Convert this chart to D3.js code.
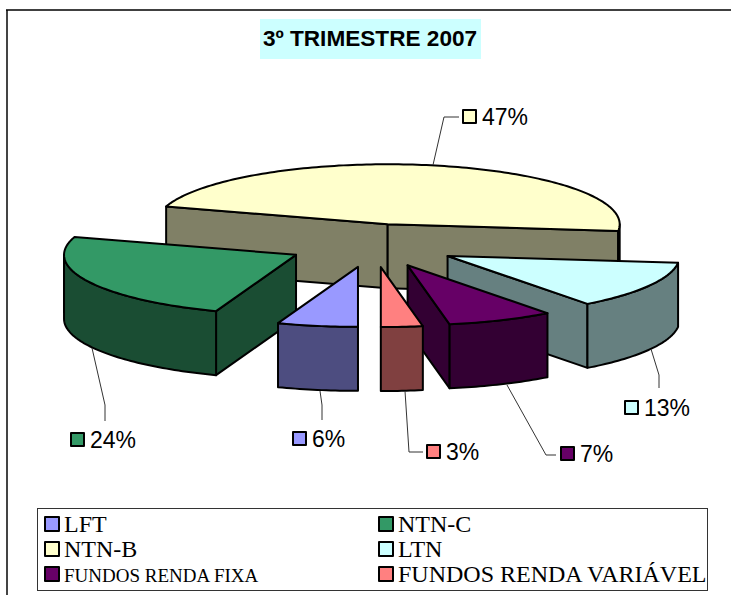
<!DOCTYPE html>
<html>
<head>
<meta charset="utf-8">
<script src="https://cdn.jsdelivr.net/npm/d3@7"></script>
<style>
html, body { margin: 0; padding: 0; background: #fff; }
svg { display: block; }
</style>
</head>
<body>
<div id="chart"></div>
<script>
var categories = ["LFT", "NTN-C", "NTN-B", "LTN", "FUNDOS RENDA FIXA", "FUNDOS RENDA VARIÁVEL"];
// unrounded shares as estimated from the slice edges, labels show them rounded
var values = [5.6, 24.2, 47, 12.9, 7.4, 2.9];
var labelText = ["6%", "24%", "47%", "13%", "7%", "3%"];
var colors = ["#9999ff", "#339966", "#ffffcc", "#ccffff", "#660066", "#ff8080"];
var drawOrder = ["NTN-B", "NTN-C", "LTN", "FUNDOS RENDA FIXA", "LFT", "FUNDOS RENDA VARIÁVEL"];
var legendFontSizes = [24, 24, 24, 24, 19, 24];

var width = 731, height = 595;
var depth = 64, explode = 0.37;

var svg = d3.select("#chart").append("svg")
    .attr("width", width)
    .attr("height", height);

// chart frame, only top and left edges are in the picture
svg.append("path")
    .attr("d", "M7,595V10")
    .attr("fill", "none")
    .attr("stroke", "#444")
    .attr("stroke-width", 2);
svg.append("path")
    .attr("d", "M6,10H731")
    .attr("fill", "none")
    .attr("stroke", "#000")
    .attr("stroke-width", 1.5);

// title
svg.append("rect")
    .attr("x", 260).attr("y", 19)
    .attr("width", 221).attr("height", 40)
    .attr("fill", "#ccffff");
svg.append("text")
    .attr("x", 370).attr("y", 46)
    .attr("text-anchor", "middle")
    .style("font", "bold 22.6px 'Liberation Sans'")
    .text("3º TRIMESTRE 2007");

// unit circle -> flattened ellipse of the pie
var x = d3.scaleLinear().domain([-1, 1]).range([141, 605]);
var y = d3.scaleLinear().domain([-1, 1]).range([185, 305]);

var pie = d3.pie().value(function(d) { return d; }).sort(null)
    .startAngle(Math.PI).endAngle(3 * Math.PI);
var arcs = pie(values);

var line = d3.line();

// the back slice sits a bit off from where the explosion puts it
function nudgeX(d) {
    return d.index == 2 ? -3 : 0;
}
function nudgeY(d) {
    return d.index == 2 ? 1 : 0;
}
function point(d, angle, drop) {
    var mid = (d.startAngle + d.endAngle) / 2;
    var ux = explode * Math.sin(mid) + Math.sin(angle);
    var uy = -explode * Math.cos(mid) - Math.cos(angle);
    return [x(ux) + nudgeX(d), y(uy) + nudgeY(d) + (drop || 0)];
}
function apex(d, drop) {
    var mid = (d.startAngle + d.endAngle) / 2;
    return [x(explode * Math.sin(mid)) + nudgeX(d), y(-explode * Math.cos(mid)) + nudgeY(d) + (drop || 0)];
}
function rim(d, a0, a1, drop) {
    var n = Math.max(2, Math.ceil((a1 - a0) / 0.02));
    return d3.range(n + 1).map(function(i) {
        return point(d, a0 + (a1 - a0) * i / n, drop);
    });
}
// parts of a slice rim that face the viewer (angle between 90 and 270 degrees)
function frontParts(d) {
    var parts = [];
    [[Math.PI / 2, 3 * Math.PI / 2], [5 * Math.PI / 2, 7 * Math.PI / 2]].forEach(function(r) {
        var a0 = Math.max(r[0], d.startAngle), a1 = Math.min(r[1], d.endAngle);
        if (a1 > a0) parts.push([a0, a1]);
    });
    return parts;
}

var faceStyle = function(sel, fill) {
    sel.attr("fill", fill)
        .attr("stroke", "#000")
        .attr("stroke-width", 2)
        .attr("stroke-linejoin", "round");
};

var slices = svg.selectAll("g.slice")
    .data(drawOrder.map(function(name) { return categories.indexOf(name); }))
    .enter().append("g")
    .attr("class", "slice");

slices.each(function(i) {
    var g = d3.select(this), d = arcs[i];
    var c = d3.rgb(colors[i]);
    var dark = d3.rgb(c.r / 2, c.g / 2, c.b / 2).formatHex();

    // cut walls, only the ones turned to the viewer
    [[d.startAngle, Math.sin(d.startAngle) < -1e-6], [d.endAngle, Math.sin(d.endAngle) > 1e-6]].forEach(function(w) {
        if (!w[1]) return;
        var p = point(d, w[0]);
        g.append("path")
            .attr("d", line([apex(d), p, point(d, w[0], depth), apex(d, depth)]) + "Z")
            .call(faceStyle, dark);
    });

    // outer wall
    frontParts(d).forEach(function(r) {
        var top = rim(d, r[0], r[1]);
        var bottom = rim(d, r[0], r[1], depth).reverse();
        g.append("path")
            .attr("d", line(top.concat(bottom)) + "Z")
            .call(faceStyle, dark);
    });

    // top face
    g.append("path")
        .attr("d", line([apex(d)].concat(rim(d, d.startAngle, d.endAngle))) + "Z")
        .call(faceStyle, colors[i]);
});

// data labels, placed by hand like the original
var labelBoxX = [293, 71, 463, 625, 561, 427];
var labelBoxY = [432, 433, 110, 401, 447, 445];
var leaders = [
    [[320, 391], [322, 405], [322, 420]],
    [[92, 348], [105, 405], [105, 421]],
    [[433, 165], [444, 117], [459, 117]],
    [[651, 349], [659, 375], [659, 388]],
    [[507, 385], [546, 455], [556, 455]],
    [[405, 391], [409, 452], [423, 452]]
];

svg.selectAll("path.leader")
    .data(leaders)
    .enter().append("path")
    .attr("class", "leader")
    .attr("d", function(d) { return line(d); })
    .attr("fill", "none")
    .attr("stroke", "#333")
    .attr("stroke-width", 1);

labelText.forEach(function(t, i) {
    svg.append("rect")
        .attr("x", labelBoxX[i]).attr("y", labelBoxY[i])
        .attr("width", 13).attr("height", 13)
        .call(faceStyle, colors[i]);
    svg.append("text")
        .attr("x", labelBoxX[i] + 19).attr("y", labelBoxY[i] + 15)
        .style("font", "23px 'Liberation Sans'")
        .attr("fill", "#000")
        .text(t);
});

// legend
svg.append("rect")
    .attr("x", 37.5).attr("y", 508.5)
    .attr("width", 670).attr("height", 82)
    .attr("fill", "#fff")
    .attr("stroke", "#333")
    .attr("stroke-width", 1);

var legendX = [45, 379];
var legendY = [517, 542, 567];

categories.forEach(function(name, i) {
    var lx = legendX[i % 2], ly = legendY[Math.floor(i / 2)];
    svg.append("rect")
        .attr("x", lx).attr("y", ly)
        .attr("width", 14).attr("height", 14)
        .call(faceStyle, colors[i]);
    svg.append("text")
        .attr("x", lx + 19).attr("y", ly + 15)
        .style("font", legendFontSizes[i] + "px 'Liberation Serif'")
        .text(name);
});
</script>
</body>
</html>
